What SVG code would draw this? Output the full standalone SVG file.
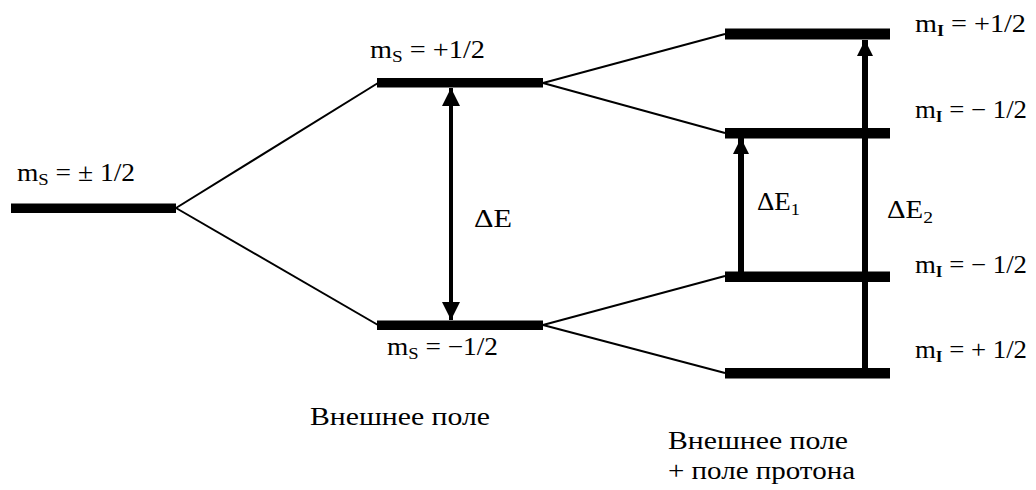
<svg xmlns="http://www.w3.org/2000/svg" width="1036" height="490" viewBox="0 0 1036 490">
<style>
text{font-family:"Liberation Serif","Times New Roman",serif;fill:#000}
.t{font-size:25px}
.d{font-size:25px}
.c{font-size:26px}
.sub{font-size:17px}
.subI{font-size:16px;font-weight:bold}
.lvl{fill:#000}
.ln{stroke:#000;stroke-width:2;fill:none}
</style>
<defs>
<marker id="ah" viewBox="0 0 10 10" refX="10" refY="5" markerWidth="5" markerHeight="4.5" orient="auto-start-reverse" markerUnits="strokeWidth"><path d="M0,0 L10,5 L0,10 Z" fill="#000"/></marker>
<marker id="ah2" viewBox="0 0 10 10" refX="10" refY="5" markerWidth="2.7" markerHeight="3.7" orient="auto" markerUnits="strokeWidth"><path d="M0,0 L10,5 L0,10 Z" fill="#000"/></marker>
</defs>
<g id="connectors">
<line class="ln" x1="176" y1="208" x2="378" y2="83"/>
<line class="ln" x1="176" y1="208" x2="378" y2="325"/>
<line class="ln" x1="543" y1="83" x2="725" y2="34"/>
<line class="ln" x1="543" y1="83" x2="725" y2="133"/>
<line class="ln" x1="543" y1="325" x2="725" y2="276"/>
<line class="ln" x1="543" y1="325" x2="725" y2="373"/>
<line x1="451" y1="88" x2="451" y2="320" stroke="#000" stroke-width="4" marker-start="url(#ah)" marker-end="url(#ah)"/>
<line x1="741" y1="276" x2="741" y2="138" stroke="#000" stroke-width="6" marker-end="url(#ah2)"/>
<line x1="865" y1="373" x2="865" y2="40" stroke="#000" stroke-width="6" marker-end="url(#ah2)"/>
</g>
<g id="level-ms-pm">
<rect class="lvl" x="11" y="203.5" width="165" height="9.5"/>
<text class="t" x="17" y="181" textLength="118" lengthAdjust="spacingAndGlyphs">m<tspan class="sub" dy="4">S</tspan><tspan dy="-4"> = ± 1/2</tspan></text>
</g>
<g id="level-ms-plus">
<rect class="lvl" x="377" y="78" width="166" height="9.5"/>
<text class="t" x="370" y="58" textLength="115" lengthAdjust="spacingAndGlyphs">m<tspan class="sub" dy="4">S</tspan><tspan dy="-4"> = +1/2</tspan></text>
</g>
<g id="level-ms-minus">
<rect class="lvl" x="377" y="320.5" width="166" height="9.5"/>
<text class="t" x="387" y="355" textLength="111" lengthAdjust="spacingAndGlyphs">m<tspan class="sub" dy="4">S</tspan><tspan dy="-4"> = −1/2</tspan></text>
</g>
<g id="level-mi-1">
<rect class="lvl" x="725" y="28.5" width="165" height="11"/>
<text class="t" x="915" y="32" textLength="111" lengthAdjust="spacingAndGlyphs">m<tspan class="subI" dy="4">I</tspan><tspan dy="-4"> = +1/2</tspan></text>
</g>
<g id="level-mi-2">
<rect class="lvl" x="725" y="128" width="165" height="10.5"/>
<text class="t" x="915" y="118" textLength="112" lengthAdjust="spacingAndGlyphs">m<tspan class="subI" dy="4">I</tspan><tspan dy="-4"> = − 1/2</tspan></text>
</g>
<g id="level-mi-3">
<rect class="lvl" x="725" y="271.5" width="165" height="10.5"/>
<text class="t" x="915" y="273" textLength="112" lengthAdjust="spacingAndGlyphs">m<tspan class="subI" dy="4">I</tspan><tspan dy="-4"> = − 1/2</tspan></text>
</g>
<g id="level-mi-4">
<rect class="lvl" x="725" y="368" width="165" height="10.5"/>
<text class="t" x="915" y="358" textLength="112" lengthAdjust="spacingAndGlyphs">m<tspan class="subI" dy="4">I</tspan><tspan dy="-4"> = + 1/2</tspan></text>
</g>
<g id="labels">
<text class="d" x="474" y="227" textLength="38" lengthAdjust="spacingAndGlyphs">ΔE</text>
<text class="d" x="757" y="210" textLength="43" lengthAdjust="spacingAndGlyphs">ΔE<tspan class="sub" dy="5">1</tspan></text>
<text class="d" x="887" y="218" textLength="46" lengthAdjust="spacingAndGlyphs">ΔE<tspan class="sub" dy="5">2</tspan></text>
<text class="c" x="310" y="425" textLength="180" lengthAdjust="spacingAndGlyphs">Внешнее поле</text>
<text class="c" x="668" y="449" textLength="180" lengthAdjust="spacingAndGlyphs">Внешнее поле</text>
<text class="c" x="668" y="479" textLength="187" lengthAdjust="spacingAndGlyphs">+ поле протона</text>
</g>
</svg>
